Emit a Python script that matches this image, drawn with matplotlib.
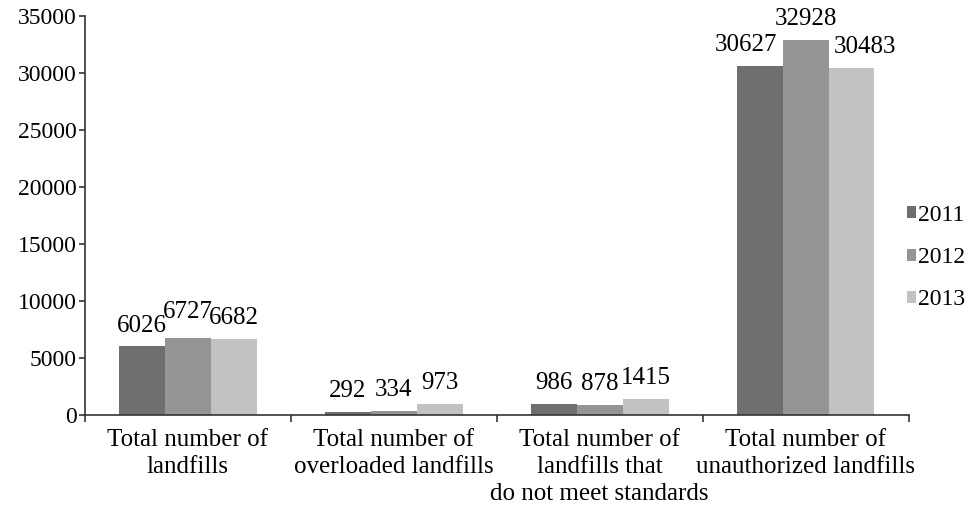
import numpy as np
import matplotlib.pyplot as plt

plt.rcParams['font.family'] = ['Liberation Serif', 'DejaVu Serif']

categories = ["Total number of\nlandfills",
              "Total number of\noverloaded landfills",
              "Total number of\nlandfills that\ndo not meet standards",
              "Total number of\nunauthorized landfills"]
years = ["2011", "2012", "2013"]
v2011 = [6026, 292, 986, 30627]
v2012 = [6727, 334, 878, 32928]
v2013 = [6682, 973, 1415, 30483]
colors = ["#6f6f6f", "#959595", "#c2c2c2"]

fig = plt.figure(figsize=(9.7, 5.05), dpi=100)
ax = fig.add_axes([0.0876, 0.178, 0.849, 0.79])

x = np.arange(len(categories)) + 0.5
w = 0.223
series = [v2011, v2012, v2013]
for i, vals in enumerate(series):
    xs = x + (i - 1) * w
    ax.bar(xs, vals, width=w, color=colors[i], label=years[i], linewidth=0)
    for j, (xx, v) in enumerate(zip(xs, vals)):
        dx, dy = 0, 15
        if v == 6727:
            dy = 19
        if j == 3 and i != 1:
            dx = -10 if i == 0 else 10
        ax.annotate(str(v), (xx, v), xytext=(dx, dy), textcoords="offset points",
                    ha="center", va="center", fontsize=18)

ax.set_xlim(0, 4)
ax.set_ylim(0, 35000)
ax.set_yticks(np.arange(0, 35001, 5000))
ax.set_xticks(x)
ax.set_xticklabels(categories, fontsize=18, linespacing=1.3)
ax.set_xticks(np.arange(0, 5), minor=True)
ax.tick_params(axis="x", which="major", length=0, pad=10)
ax.tick_params(axis="x", which="minor", length=5, width=1.2, direction="out", color="#333333")
ax.tick_params(axis="y", length=4, width=1.2, direction="out", pad=2, labelsize=17, color="#333333")

for s in ["top", "right"]:
    ax.spines[s].set_visible(False)
for s in ["left", "bottom"]:
    ax.spines[s].set_linewidth(1.2)
    ax.spines[s].set_color("#333333")

ax.legend(loc="center left", bbox_to_anchor=(0.925, 0.49), bbox_transform=fig.transFigure,
          frameon=False, fontsize=17, handlelength=0.4, handleheight=0.4,
          handletextpad=0.1, labelspacing=0.9, borderaxespad=0)

fig.savefig("out.png", dpi=100)
